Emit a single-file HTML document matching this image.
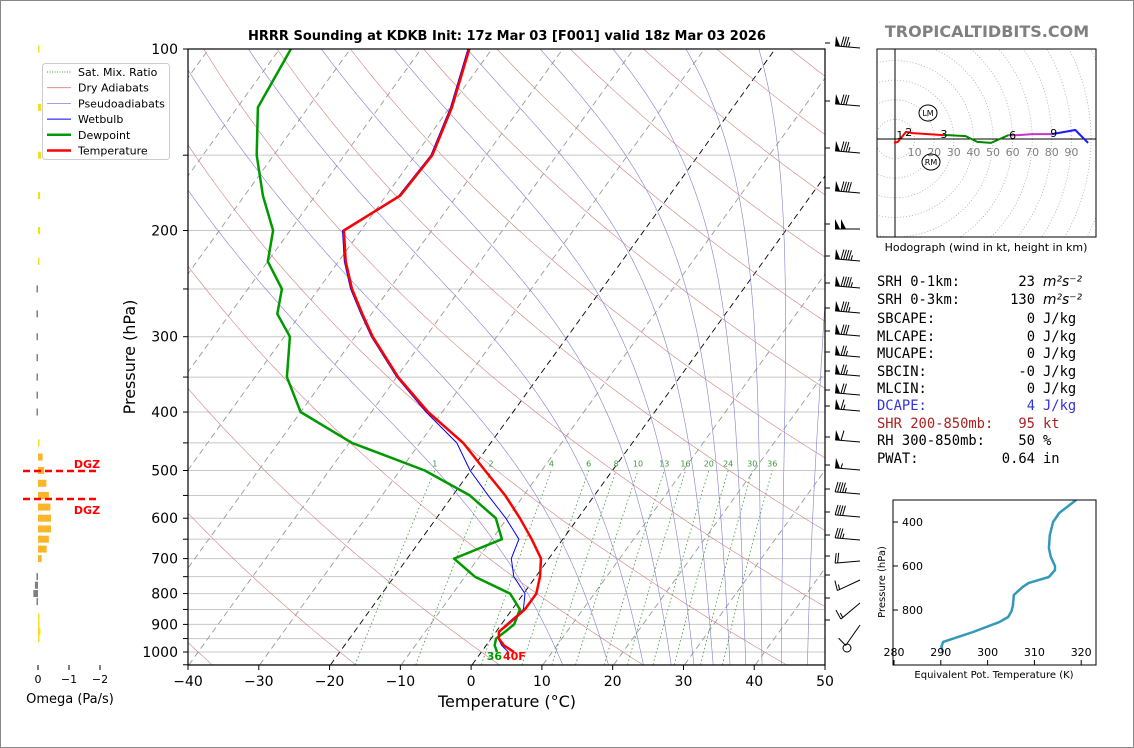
<!DOCTYPE html>
<html><head><meta charset="utf-8"><style>
html,body{margin:0;padding:0;background:#fff;}
svg{display:block;font-family:"DejaVu Sans","Liberation Sans",sans-serif;}
</style></head><body>
<svg id="s" width="1134" height="748" viewBox="0 0 1134 748" xmlns="http://www.w3.org/2000/svg">
<rect x="0.5" y="0.5" width="1133" height="747" fill="#fff" stroke="#888"/>
<defs>
<clipPath id="cp"><rect x="188" y="49" width="637" height="616"/></clipPath>
<clipPath id="hc"><rect x="877" y="49" width="219" height="188"/></clipPath>
<clipPath id="ec"><rect x="893" y="500" width="203" height="165"/></clipPath>
</defs>
<text x="507" y="40" text-anchor="middle" font-size="13" font-weight="bold">HRRR Sounding at KDKB Init: 17z Mar 03 [F001] valid 18z Mar 03 2026</text>
<text x="987" y="37" text-anchor="middle" font-size="16" font-weight="bold" fill="#808080">TROPICALTIDBITS.COM</text>
<g id="bg" clip-path="url(#cp)"></g>
<g id="prof" clip-path="url(#cp)"></g>
<g id="axes"></g>
<g id="barbs"></g>
<g id="omega"></g>
<g id="hodo"></g>
<g id="the"></g>
<g id="txt" font-family="'DejaVu Sans Mono','Liberation Mono',monospace" font-size="13.8"></g>
</svg>
<script>
// ---- data ----
const levels = [100,125,150,175,200,225,250,275,300,350,400,450,500,550,600,650,700,750,800,850,900,925,950,975,1000];
const tempC = [-63.2,-59.7,-57.6,-58.0,-62.4,-59.0,-55.3,-51.3,-47.5,-39.8,-32.0,-23.9,-18.0,-12.6,-8.2,-4.4,-1.1,0.6,1.8,1.8,0.9,0.4,1.1,2.5,4.6];
const dewC = [-88.4,-87.1,-82.4,-77.4,-72.4,-70.0,-65.2,-63.3,-59.2,-55.5,-50.0,-39.6,-26.5,-17.6,-11.6,-8.6,-13.4,-8.6,-1.9,1.1,1.8,1.3,0.7,1.2,2.2];
const wetbulbC = [-63.4,-59.9,-57.8,-58.2,-62.6,-59.2,-55.5,-51.5,-47.7,-40.0,-32.3,-24.8,-20.1,-15.0,-10.2,-6.2,-5.3,-3.1,0.2,1.6,0.7,0.3,1.0,2.2,3.8];
const sfcTempLabel = "40F";
const sfcDewLabel = "36";
const barbY = [43,101,148,188,224,256,283,308,331,352,371,390,406,437,465,489,512,535,556,575,598,620];
const barbSpd = [85,80,85,90,100,95,95,85,80,75,75,70,65,60,55,45,40,35,20,15,15,10];
const barbDir = [275,275,275,275,270,275,275,275,275,275,275,275,275,275,275,275,275,275,265,245,230,215];
const omegaP = [100,125,150,175,200,225,250,275,300,325,350,375,400,450,475,500,525,550,575,600,625,650,675,700,750,775,800,825,875,900,925,950];
const omegaV = [-0.05,-0.1,-0.1,-0.07,-0.07,-0.05,0.02,0.05,0.03,0.03,0.03,0.03,0.02,-0.05,-0.15,-0.2,-0.27,-0.35,-0.4,-0.42,-0.42,-0.35,-0.28,-0.12,0.05,0.1,0.15,0.04,-0.02,-0.05,-0.08,-0.03];
const hodoU0 = [-0.5,1.5,5.6,9,24.5];
const hodoV0 = [-2,-1.5,3.6,3,2];
const hodoU1 = [24.5,27,36,42,49,58];
const hodoV1 = [2,2,1.5,-1.5,-2,2];
const hodoU2 = [58,63,70,80];
const hodoV2 = [2,2,2.5,2.5];
const hodoU3 = [80,83,92,98.5];
const hodoV3 = [2.5,3,4.6,-2];
const hodoLblU = [2.5,7,25,60,81];
const hodoLblV = [2,3.5,2.5,2,3];
const hodoLbl = ["1","2","3","6","9"];
const thetaP = [300,359,400,459,518,559,600,618,650,677,695,732,780,805,832,855,900,945,968,991];
const thetaE = [318.9,315.3,314.0,313.3,313.1,313.5,314.4,314.4,313.1,308.8,307.5,305.6,305.4,305.1,304.4,302.5,296.9,290.5,290.1,290.5];
const pTicks = [100,200,300,400,500,600,700,800,900,1000];
const tTicks = [-40,-30,-20,-10,0,10,20,30,40,50];
const mixRatios = [1,2,4,6,8,10,13,16,20,24,30,36];

const NS="http://www.w3.org/2000/svg";
function mk(parent,tag,attrs){const e=document.createElementNS(NS,tag);for(const k in attrs)e.setAttribute(k,attrs[k]);parent.appendChild(e);return e;}
function yP(p){return 49+603*Math.log10(p/100);}
function xT(T,p){return 472+T*7.08+0.722*(665-yP(p));}
function pathFrom(pts){return pts.map((q,i)=>(i?'L':'M')+q[0].toFixed(1)+' '+q[1].toFixed(1)).join(' ');}
const bg=document.getElementById('bg');
for(let p=100;p<=1050;p+=50){const l=mk(bg,'line',{x1:188,x2:825,y1:yP(p),y2:yP(p),stroke:'#c8c8c8','stroke-width':1});

}
for(let T=-160;T<=50;T+=10){const l=mk(bg,'line',{x1:xT(T,1050),y1:yP(1050),x2:xT(T,100),y2:yP(100),stroke:(T===0||T===-20)?'#000':'#999','stroke-width':0.9,'stroke-dasharray':'6,4'});

}
for(let th=193.15;th<=520;th+=20){const pts=[];for(let p=1050;p>=100;p-=10){pts.push([xT(th*Math.pow(p/1000,0.286)-273.15,p),yP(p)]);}
const e=mk(bg,'path',{d:pathFrom(pts),fill:'none',stroke:'#d08080','stroke-width':0.6});

}
function es(T){return 6.112*Math.exp(17.67*T/(T+243.5));}
for(let t0=-115;t0<=-5;t0+=10.3){let T=t0;const pts=[];for(let p=100;p<=1050;p+=2){pts.push([xT(T,p),yP(p)]);
const TK=T+273.15,e=Math.min(es(T),p*0.5),rs=0.622*e/(p-e),Lv=2.5e6,Rd=287,Cp=1005;
const dTdp=(Rd*TK+Lv*rs)/(p*(Cp+Lv*Lv*rs*0.622/(Rd*TK*TK)));T+=dTdp*2;if(T>60)break;}
const e=mk(bg,'path',{d:pathFrom(pts),fill:'none',stroke:'#8080d0','stroke-width':0.6});

}
mixRatios.forEach(w=>{const pts=[];for(let p=1050;p>=500;p-=10){const e=w*p/(622+w),l=Math.log(e/6.112);pts.push([xT(243.5*l/(17.67-l),p),yP(p)]);}
const e=mk(bg,'path',{d:pathFrom(pts),fill:'none',stroke:'#3a9a3a','stroke-width':0.8,'stroke-dasharray':'1.5,2.5'});


const q=pts[pts.length-1];const t=mk(bg,'text',{x:q[0],y:q[1]-4,'font-size':8,fill:'#3a9a3a','text-anchor':'middle'});t.textContent=w;

});
const prof=document.getElementById('prof');
function prl(arr,col,w,name){const e=mk(prof,'path',{d:pathFrom(levels.map((p,i)=>[xT(arr[i],p),yP(p)])),fill:'none',stroke:col,'stroke-width':w,'stroke-linejoin':'round'});

}
prl(wetbulbC,'#0000ff',1,'wetbulb-line');
prl(dewC,'#009900',2.5,'dewpoint-line');
prl(tempC,'#ff0000',2.5,'temperature-line');
let t2=mk(prof,'text',{x:502,y:660,'font-size':11,'font-weight':'bold',fill:'#009900','text-anchor':'end'});t2.textContent=sfcDewLabel;


let t1=mk(prof,'text',{x:503,y:660,'font-size':11,'font-weight':'bold',fill:'#f00','text-anchor':'start'});t1.textContent=sfcTempLabel;


const ax=document.getElementById('axes');
mk(ax,'rect',{x:188,y:49,width:637,height:616,fill:'none',stroke:'#000','stroke-width':1.2});
for(let p=100;p<=1050;p+=50){mk(ax,'line',{x1:183,x2:188,y1:yP(p),y2:yP(p),stroke:'#000'});}
pTicks.forEach(p=>{const t=mk(ax,'text',{x:178,y:yP(p)+5,'font-size':14,'text-anchor':'end'});t.textContent=p;

});
tTicks.forEach(T=>{const x=188+(T+40)*7.078;mk(ax,'line',{x1:x,x2:x,y1:665,y2:670,stroke:'#000'});
const t=mk(ax,'text',{x:x,y:686,'font-size':14,'text-anchor':'middle'});t.textContent=T<0?'\u2212'+(-T):T;

});
let xl=mk(ax,'text',{x:507,y:707,'font-size':16,'text-anchor':'middle'});xl.textContent='Temperature (°C)';


let yl=mk(ax,'text',{x:0,y:0,'font-size':16,'text-anchor':'middle',transform:'translate(135,357) rotate(-90)'});yl.textContent='Pressure (hPa)';


const lg=mk(ax,'g',{});


mk(lg,'rect',{x:42.5,y:63.5,width:127,height:96,rx:3,fill:'#fff',stroke:'#ccc'});
const legItems=[['Sat. Mix. Ratio','#3a9a3a',1,'1,1.5'],['Dry Adiabats','#d08080',0.8,''],['Pseudoadiabats','#8080d0',0.8,''],['Wetbulb','#0000ff',1,''],['Dewpoint','#009900',2.5,''],['Temperature','#ff0000',2.5,'']];
legItems.forEach((it,i)=>{const y=72+i*15.7;mk(lg,'line',{x1:47,x2:71,y1:y,y2:y,stroke:it[1],'stroke-width':it[2],'stroke-dasharray':it[3]});
const t=mk(lg,'text',{x:78,y:y+4,'font-size':11});t.textContent=it[0];

});
// barbs
const bb=document.getElementById('barbs');
barbY.forEach((y,i)=>{const d=barbDir[i]*Math.PI/180,L=25;const sx=860,sy=y+5;
const ux=Math.sin(d),uy=-Math.cos(d);
const tx=sx+ux*L,ty=sy+uy*L;const g=mk(bb,'g',{stroke:'#000','stroke-width':1,fill:'#000'});


mk(g,'line',{x1:sx,y1:sy,x2:tx,y2:ty});
let s=barbSpd[i],pos=0;
const qx=-uy, qy=ux;
const P=(k)=>[tx-ux*k,ty-uy*k];
while(s>=50){const a=P(pos),b=P(pos+5);mk(g,'polygon',{points:`${a[0]},${a[1]} ${b[0]},${b[1]} ${a[0]+qx*10},${a[1]+qy*10}`,stroke:'none'});pos+=6;s-=50;}
while(s>=10){const a=P(pos);mk(g,'line',{x1:a[0],y1:a[1],x2:a[0]+qx*10-ux*2,y2:a[1]+qy*10-uy*2});pos+=2.5;s-=10;}
if(s>=5){const a=P(pos+(pos===0?3:0));mk(g,'line',{x1:a[0],y1:a[1],x2:a[0]+qx*5-ux*1,y2:a[1]+qy*5-uy*1});}
mk(ax,'line',{x1:825,x2:830,y1:y,y2:y,stroke:'#000'});});
let calm=mk(bb,'circle',{cx:847,cy:648,r:4,fill:'none',stroke:'#000'});


// omega
const om=document.getElementById('omega');
omegaP.forEach((p,i)=>{const v=omegaV[i];const w=Math.max(1.5,Math.abs(v)*31);const y=yP(p);
const col=v>0?'#808080':(Math.abs(v)<0.12?'#f0e020':'#fbb52a');
const r=mk(om,'rect',{x:v<0?38:38-w,y:y-3.5,width:w,height:7,fill:col});

});
[[471,464,'DGZ',87],[499,510,'DGZ',87]].forEach(a=>{const l=mk(om,'line',{x1:23,x2:99,y1:a[0],y2:a[0],stroke:'#f00','stroke-width':2.5,'stroke-dasharray':'7,4'});


const t=mk(om,'text',{x:a[3],y:a[1]+4,'font-size':11,'font-weight':'bold',fill:'#f00','text-anchor':'middle'});t.textContent=a[2];

});
[[38,'0'],[69,'\u22121'],[100,'\u22122']].forEach(a=>{mk(om,'line',{x1:a[0],x2:a[0],y1:665,y2:670,stroke:'#000'});
const t=mk(om,'text',{x:a[0],y:683,'font-size':11,'text-anchor':'middle'});t.textContent=a[1];

});
let ot=mk(om,'text',{x:70,y:703,'font-size':13,'text-anchor':'middle'});ot.textContent='Omega (Pa/s)';


// hodograph
const ho=document.getElementById('hodo');const hx=u=>895+u*1.96,hy=v=>139-v*1.96;
const hin=mk(ho,'g',{'clip-path':'url(#hc)'});
for(let r=10;r<=150;r+=10)mk(hin,'circle',{cx:hx(0),cy:hy(0),r:r*1.96,fill:'none',stroke:'#aaa','stroke-width':0.8,'stroke-dasharray':'1,2'});
mk(hin,'line',{x1:877,x2:1096,y1:hy(0),y2:hy(0),stroke:'#000','stroke-width':1});
mk(hin,'line',{x1:hx(0),x2:hx(0),y1:49,y2:237,stroke:'#000','stroke-width':1});
for(let k=10;k<=90;k+=10){const t=mk(hin,'text',{x:hx(k),y:156,'font-size':11,fill:'#808080','text-anchor':'middle'});t.textContent=k;

}
[[hodoU0,hodoV0,'#ff0000'],[hodoU1,hodoV1,'#008800'],[hodoU2,hodoV2,'#cc33cc'],[hodoU3,hodoV3,'#1a1aff']].forEach(s=>{const e=mk(hin,'path',{d:pathFrom(s[0].map((u,i)=>[hx(u),hy(s[1][i])])),fill:'none',stroke:s[2],'stroke-width':2});

});
hodoLbl.forEach((l,i)=>{const t=mk(hin,'text',{x:hx(hodoLblU[i]),y:hy(hodoLblV[i])+4,'font-size':11,'text-anchor':'middle'});t.textContent=l;

});
[[928,113,'LM'],[931,162,'RM']].forEach(a=>{mk(hin,'ellipse',{cx:a[0],cy:a[1],rx:9,ry:8,fill:'none',stroke:'#000'});const t=mk(hin,'text',{x:a[0],y:a[1]+3,'font-size':8,'text-anchor':'middle'});t.textContent=a[2];

});
mk(ho,'rect',{x:877,y:49,width:219,height:188,fill:'none',stroke:'#000'});
let hc=mk(ho,'text',{x:986,y:251,'font-size':11,'text-anchor':'middle'});hc.textContent='Hodograph (wind in kt, height in km)';


// theta-e
const te=document.getElementById('the');const ex=t=>894+(t-280)*4.68,ey=p=>522+(p-400)*0.22;
const tin=mk(te,'g',{'clip-path':'url(#ec)'});
let tl=mk(tin,'path',{d:pathFrom(thetaP.map((p,i)=>[ex(thetaE[i]),ey(p)])),fill:'none',stroke:'#3399bb','stroke-width':2.5,'stroke-linejoin':'round'});


mk(te,'rect',{x:893,y:500,width:203,height:165,fill:'none',stroke:'#000'});
[400,600,800].forEach(p=>{mk(te,'line',{x1:893,x2:898,y1:ey(p),y2:ey(p),stroke:'#000'});const t=mk(te,'text',{x:902,y:ey(p)+4,'font-size':11});t.textContent=p;

});
[280,290,300,310,320].forEach(k=>{mk(te,'line',{x1:ex(k),x2:ex(k),y1:665,y2:660,stroke:'#000'});const t=mk(te,'text',{x:ex(k),y:656,'font-size':11,'text-anchor':'middle'});t.textContent=k;

});
let ty=mk(te,'text',{x:0,y:0,'font-size':10,'text-anchor':'middle',transform:'translate(885,582) rotate(-90)'});ty.textContent='Pressure (hPa)';


let tx2=mk(te,'text',{x:994,y:678,'font-size':10,'text-anchor':'middle'});tx2.textContent='Equivalent Pot. Temperature (K)';


// indices
const tx=document.getElementById('txt');
const rows=[['SRH 0-1km:','23','m²s⁻²','#000',286],['SRH 0-3km:','130','m²s⁻²','#000',304],['SBCAPE:','0','J/kg','#000',323],['MLCAPE:','0','J/kg','#000',341],['MUCAPE:','0','J/kg','#000',358],['SBCIN:','-0','J/kg','#000',376],['MLCIN:','0','J/kg','#000',393],['DCAPE:','4','J/kg','#3333dd',410],['SHR 200-850mb:','95','kt','#aa2222',428],['RH 300-850mb:','50','%','#000',445],['PWAT:','0.64','in','#000',463]];
rows.forEach(r=>{const a=mk(tx,'text',{x:877,y:r[4],fill:r[3]});a.textContent=r[0];


const b=mk(tx,'text',{x:1035,y:r[4],fill:r[3],'text-anchor':'end'});b.textContent=r[1];


const c=mk(tx,'text',{x:1043,y:r[4],fill:r[3],'font-style':r[2].startsWith('m')?'italic':'normal','font-family':r[2].startsWith('m')?'"DejaVu Sans",sans-serif':''});c.textContent=r[2];

});
</script>
</body></html>
